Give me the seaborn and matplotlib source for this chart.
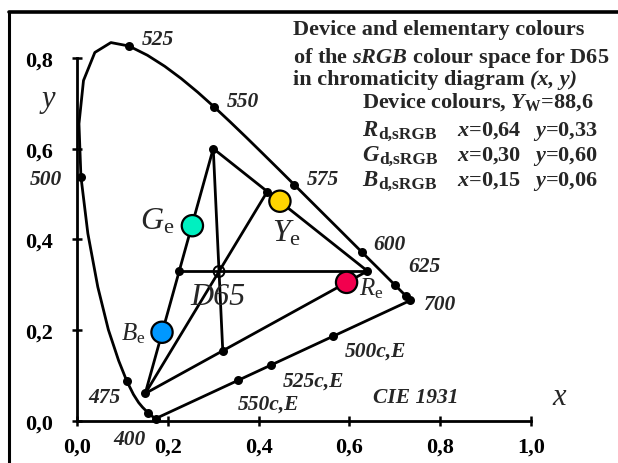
import matplotlib
matplotlib.use("Agg")
import numpy as np
import pandas as pd
import matplotlib.pyplot as plt
from matplotlib.lines import Line2D
from matplotlib.ticker import FixedLocator, FuncFormatter
import seaborn as sns

# CIE 1931 spectral locus (2 degree observer), 400-700 nm in 5 nm steps
wavelengths = list(range(400, 705, 5))
locus_x = [0.1733, 0.1730, 0.1726, 0.1721, 0.1714, 0.1703, 0.1689, 0.1669,
           0.1644, 0.1611, 0.1566, 0.1510, 0.1440, 0.1355, 0.1241, 0.1096,
           0.0913, 0.0687, 0.0454, 0.0235, 0.0082, 0.0039, 0.0139, 0.0389,
           0.0743, 0.1142, 0.1547, 0.1929, 0.2296, 0.2658, 0.3016, 0.3373,
           0.3731, 0.4087, 0.4441, 0.4788, 0.5125, 0.5448, 0.5752, 0.6029,
           0.6270, 0.6482, 0.6658, 0.6801, 0.6915, 0.7006, 0.7079, 0.7140,
           0.7190, 0.7230, 0.7260, 0.7283, 0.7300, 0.7311, 0.7320, 0.7327,
           0.7334, 0.7340, 0.7344, 0.7346, 0.7347]
locus_y = [0.0048, 0.0048, 0.0048, 0.0048, 0.0051, 0.0058, 0.0069, 0.0086,
           0.0109, 0.0138, 0.0177, 0.0227, 0.0297, 0.0399, 0.0578, 0.0868,
           0.1327, 0.2007, 0.2950, 0.4127, 0.5384, 0.6548, 0.7502, 0.8120,
           0.8338, 0.8262, 0.8059, 0.7816, 0.7543, 0.7243, 0.6923, 0.6589,
           0.6245, 0.5896, 0.5547, 0.5202, 0.4866, 0.4544, 0.4242, 0.3965,
           0.3725, 0.3514, 0.3340, 0.3197, 0.3083, 0.2993, 0.2920, 0.2859,
           0.2809, 0.2770, 0.2740, 0.2717, 0.2700, 0.2689, 0.2680, 0.2673,
           0.2666, 0.2660, 0.2656, 0.2654, 0.2653]

# wavelengths marked with a dot on the locus
marked_nm = [400, 450, 475, 500, 525, 550, 575, 600, 625, 650, 700]

# sRGB device colours and white point
device_names = ["R", "G", "B"]
device_x = [0.64, 0.30, 0.15]
device_y = [0.33, 0.60, 0.06]
white_name = "D65"
white_x = [0.3127]
white_y = [0.3290]
white_Y = "88,6"

# elementary colours
elem_names = ["R", "G", "B", "Y"]
elem_x = [0.594, 0.254, 0.187, 0.447]
elem_y = [0.305, 0.430, 0.195, 0.484]
elem_colors = ["#f2004e", "#00f0c0", "#0098ff", "#ffd400"]

# where the lines through D65 meet the triangle sides (GR, BG, BR)
aux_x = [0.419, 0.225, 0.321]
aux_y = [0.505, 0.330, 0.154]

# complementary wavelengths (illuminant E) on the purple line
compl_labels = ["550c,E", "525c,E", "500c,E"]
compl_x = [0.355, 0.427, 0.565]
compl_y = [0.089, 0.123, 0.187]

x_ticks = [0.0, 0.2, 0.4, 0.6, 0.8, 1.0]
y_ticks = [0.0, 0.2, 0.4, 0.6, 0.8]

sns.set_style("white")
plt.rcParams["font.family"] = ["Liberation Serif", "DejaVu Serif"]
plt.rcParams["mathtext.fontset"] = "custom"
plt.rcParams["mathtext.rm"] = "Liberation Serif"
plt.rcParams["mathtext.it"] = "Liberation Serif:italic"
plt.rcParams["mathtext.bf"] = "Liberation Serif:bold"
plt.rcParams["mathtext.bfit"] = "Liberation Serif:bold:italic"

W, H = 618, 464
fig = plt.figure(figsize=(W / 100, H / 100), dpi=100)
ax = fig.add_axes([0, 0, 1, 1])
ax.set_facecolor("white")

# equal scale of 453.5 px per unit, origin at pixel (77.2, 421.7)
S, X0, Y0 = 453.5, 77.2, 421.7
ax.set_xlim(-X0 / S, (W - X0) / S)
ax.set_ylim(-(H - Y0) / S, Y0 / S)

LW = 2.0
locus = pd.DataFrame({"nm": wavelengths, "x": locus_x, "y": locus_y})
sns.lineplot(data=locus, x="x", y="y", sort=False, estimator=None,
             color="black", lw=LW, ax=ax, zorder=2)

p = dict(zip(device_names, zip(device_x, device_y)))
lo = locus.set_index("nm")
segs = [
    ("tri", [p["R"], p["G"], p["B"], p["R"]]),
    ("BY", [p["B"], (aux_x[0], aux_y[0])]),
    ("hor", [(aux_x[1], aux_y[1]), p["R"]]),
    ("GD", [p["G"], (aux_x[2], aux_y[2])]),
    ("purple", [tuple(lo.loc[400]), tuple(lo.loc[700])]),
]
rows = []
for name, pts in segs:
    for i, (xx, yy) in enumerate(pts):
        rows.append({"seg": name, "i": i, "x": xx, "y": yy})
seg_df = pd.DataFrame(rows)
sns.lineplot(data=seg_df, x="x", y="y", units="seg", estimator=None, sort=False,
             color="black", lw=LW, ax=ax, zorder=2)

# small black dots
dots = pd.concat([
    lo.loc[marked_nm].reset_index()[["x", "y"]],
    pd.DataFrame({"x": device_x, "y": device_y}),
    pd.DataFrame({"x": aux_x, "y": aux_y}),
    pd.DataFrame({"x": compl_x, "y": compl_y}),
], ignore_index=True)
sns.scatterplot(data=dots, x="x", y="y", color="black", s=42, edgecolor="black",
                linewidth=0, ax=ax, zorder=3, legend=False)

# white point
sns.scatterplot(x=white_x, y=white_y, s=62, facecolor="none", edgecolor="black",
                linewidth=1.4, ax=ax, zorder=4, legend=False)

# elementary colours
elem = pd.DataFrame({"name": elem_names, "x": elem_x, "y": elem_y})
sns.scatterplot(data=elem, x="x", y="y", hue="name", palette=elem_colors,
                s=235, edgecolor="black", linewidth=1.6, ax=ax, zorder=5,
                legend=False)

# axes as spines through the origin
for side in ["top", "right"]:
    ax.spines[side].set_visible(False)
ax.spines["left"].set_position(("data", 0))
ax.spines["bottom"].set_position(("data", 0))
ax.spines["left"].set_bounds(0, 0.8)
ax.spines["bottom"].set_bounds(0, 1.0)
for side in ["left", "bottom"]:
    ax.spines[side].set_linewidth(2.0)
    ax.spines[side].set_color("black")
ax.xaxis.set_major_locator(FixedLocator(x_ticks))
ax.yaxis.set_major_locator(FixedLocator(y_ticks))
fmt = FuncFormatter(lambda v, _: f"{v:.1f}".replace(".", ","))
ax.xaxis.set_major_formatter(fmt)
ax.yaxis.set_major_formatter(fmt)
ax.tick_params(axis="both", direction="inout", length=7, width=1.8,
               labelsize=16, colors="black")
ax.tick_params(axis="x", pad=8)
ax.tick_params(axis="y", pad=14)
ax.xaxis.set_ticks_position("bottom")
ax.yaxis.set_ticks_position("left")
for lab in ax.get_xticklabels() + ax.get_yticklabels():
    lab.set_fontweight("bold")
ax.set_xlabel("")
ax.set_ylabel("")


def d(px, py):
    return ((px - X0) / S, (Y0 - py) / S)


wl_style = dict(fontsize=15.5, fontweight="bold", fontstyle="italic",
                va="center", ha="left")
wl_pos = {525: (142, 40), 550: (227, 102), 575: (307, 180), 600: (373, 245),
          625: (408, 267), 700: (423, 305), 475: (88, 398), 400: (113, 440)}
for nm, (px, py) in wl_pos.items():
    ax.text(*d(px, py), str(nm), **wl_style)
ax.text(*d(62, 180), "500", **{**wl_style, "ha": "right"})

compl_pos = [(238, 405), (283, 382), (345, 352)]
for lab, (px, py) in zip(compl_labels, compl_pos):
    ax.text(*d(px, py), lab, **wl_style)
ax.text(*d(373, 398), "CIE 1931", **wl_style)

ax.text(*d(48.5, 100), "y", fontsize=22, fontstyle="italic", ha="center", va="center")
ax.text(*d(552, 398), "x", fontsize=22, fontstyle="italic", ha="left", va="center")

big = 23
small = 18
ax.text(*d(174, 230), r"$G_{\mathrm{e}}$", fontsize=big, ha="right", va="baseline")
ax.text(*d(272, 242), r"$Y_{\mathrm{e}}$", fontsize=big, ha="left", va="baseline")
ax.text(*d(359, 295), r"$R_{\mathrm{e}}$", fontsize=small, ha="left", va="baseline")
ax.text(*d(145, 340), r"$B_{\mathrm{e}}$", fontsize=small, ha="right", va="baseline")
ax.text(*d(190, 305), white_name, fontsize=big, fontstyle="italic", ha="left",
        va="baseline")

renderer = fig.canvas.get_renderer()
FS = 16
title_lines = ["Device and elementary colours",
               r"of the $\mathbfit{sRGB}$ colour space for D65"]
for line, py in zip(title_lines, [35, 63]):
    ax.text(*d(293, py), line, fontsize=FS, fontweight="bold", ha="left",
            va="baseline")
head = ax.text(*d(293, 85), "in chromaticity diagram ", fontsize=FS,
               fontweight="bold", ha="left", va="baseline")
ax.text(*d(head.get_window_extent(renderer).x1, 85), "(x, y)", fontsize=FS,
        fontweight="bold", fontstyle="italic", ha="left", va="baseline")
ax.text(*d(362, 108), r"Device colours, $\mathbfit{Y}_{\mathbf{W}}$=" + white_Y,
        fontsize=FS, fontweight="bold", ha="left", va="baseline")

for name, xx, yy, py in zip(device_names, device_x, device_y, [136, 161, 186]):
    main = ax.text(*d(362, py), name, fontsize=16.5, fontweight="bold",
                   fontstyle="italic", ha="left", va="baseline")
    x_end = main.get_window_extent(renderer).x1
    ax.text(*d(x_end + 1, py + 3), "d,sRGB", fontsize=12.5, fontweight="bold",
            ha="left", va="baseline")
    ax.text(*d(457, py), r"$\mathbfit{x}$=" + f"{xx:.2f}".replace(".", ","),
            fontsize=FS, fontweight="bold", ha="left", va="baseline")
    ax.text(*d(533, py), r"$\mathbfit{y}$=" + f"{yy:.2f}".replace(".", ","),
            fontsize=FS, fontweight="bold", ha="left", va="baseline")

# frame lines at the left and top
fig.add_artist(Line2D([9 / W, 9 / W], [0, 1 - 13 / H], transform=fig.transFigure,
                      color="black", lw=2.2))
fig.add_artist(Line2D([9 / W, 1], [1 - 13 / H, 1 - 13 / H], transform=fig.transFigure,
                      color="black", lw=2.6))

fig.savefig("out.png", dpi=100)
